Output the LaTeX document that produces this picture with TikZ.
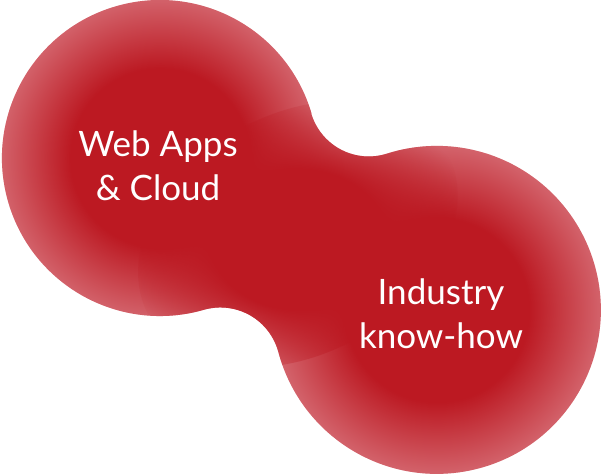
\documentclass[tikz,border=0pt]{standalone}
\usepackage{fontspec}
\setmainfont{Lato}
\usetikzlibrary{fadings}
\definecolor{blobdark}{HTML}{BC1922}
\definecolor{bloblight}{HTML}{DC7E86}
\pgfdeclareradialshading{fzsh}{\pgfpoint{0bp}{0bp}}{color(0bp)=(pgftransparent!0); color(12bp)=(pgftransparent!0); color(25bp)=(pgftransparent!100); color(50bp)=(pgftransparent!100)}
\pgfdeclarefading{fz}{\pgfuseshading{fzsh}}
\tikzset{lbl/.style={text=white, align=center, font=\fontsize{35}{44}\selectfont}}
\begin{document}
\begin{tikzpicture}[x=1pt,y=-1pt]
\useasboundingbox (0,0) rectangle (602,474);
\begin{scope}
\clip (311.5,113.4) arc[start angle=-16.4,end angle=-286.1,radius=158]
  arc[start angle=-106.1,end angle=-14.9,radius=60]
  arc[start angle=165.1,end angle=-107.7,radius=164]
  arc[start angle=72.3,end angle=163.6,radius=60] -- cycle;
\fill[bloblight] (0,0) rectangle (602,474);
\fill[blobdark, path fading=fz] (160,158) circle[radius=185];
\fill[blobdark, path fading=fz] (437,310) circle[radius=190];
\fill[blobdark, path fading=fz, rotate around={28.8:(298,234)}] (298,234) ellipse[x radius=170, y radius=120];
\end{scope}
\node[lbl] (a) at (158,166) {Web Apps\\\&~Cloud};
\node[lbl] (b) at (441,314) {Industry\\know-how};
\end{tikzpicture}
\end{document}
